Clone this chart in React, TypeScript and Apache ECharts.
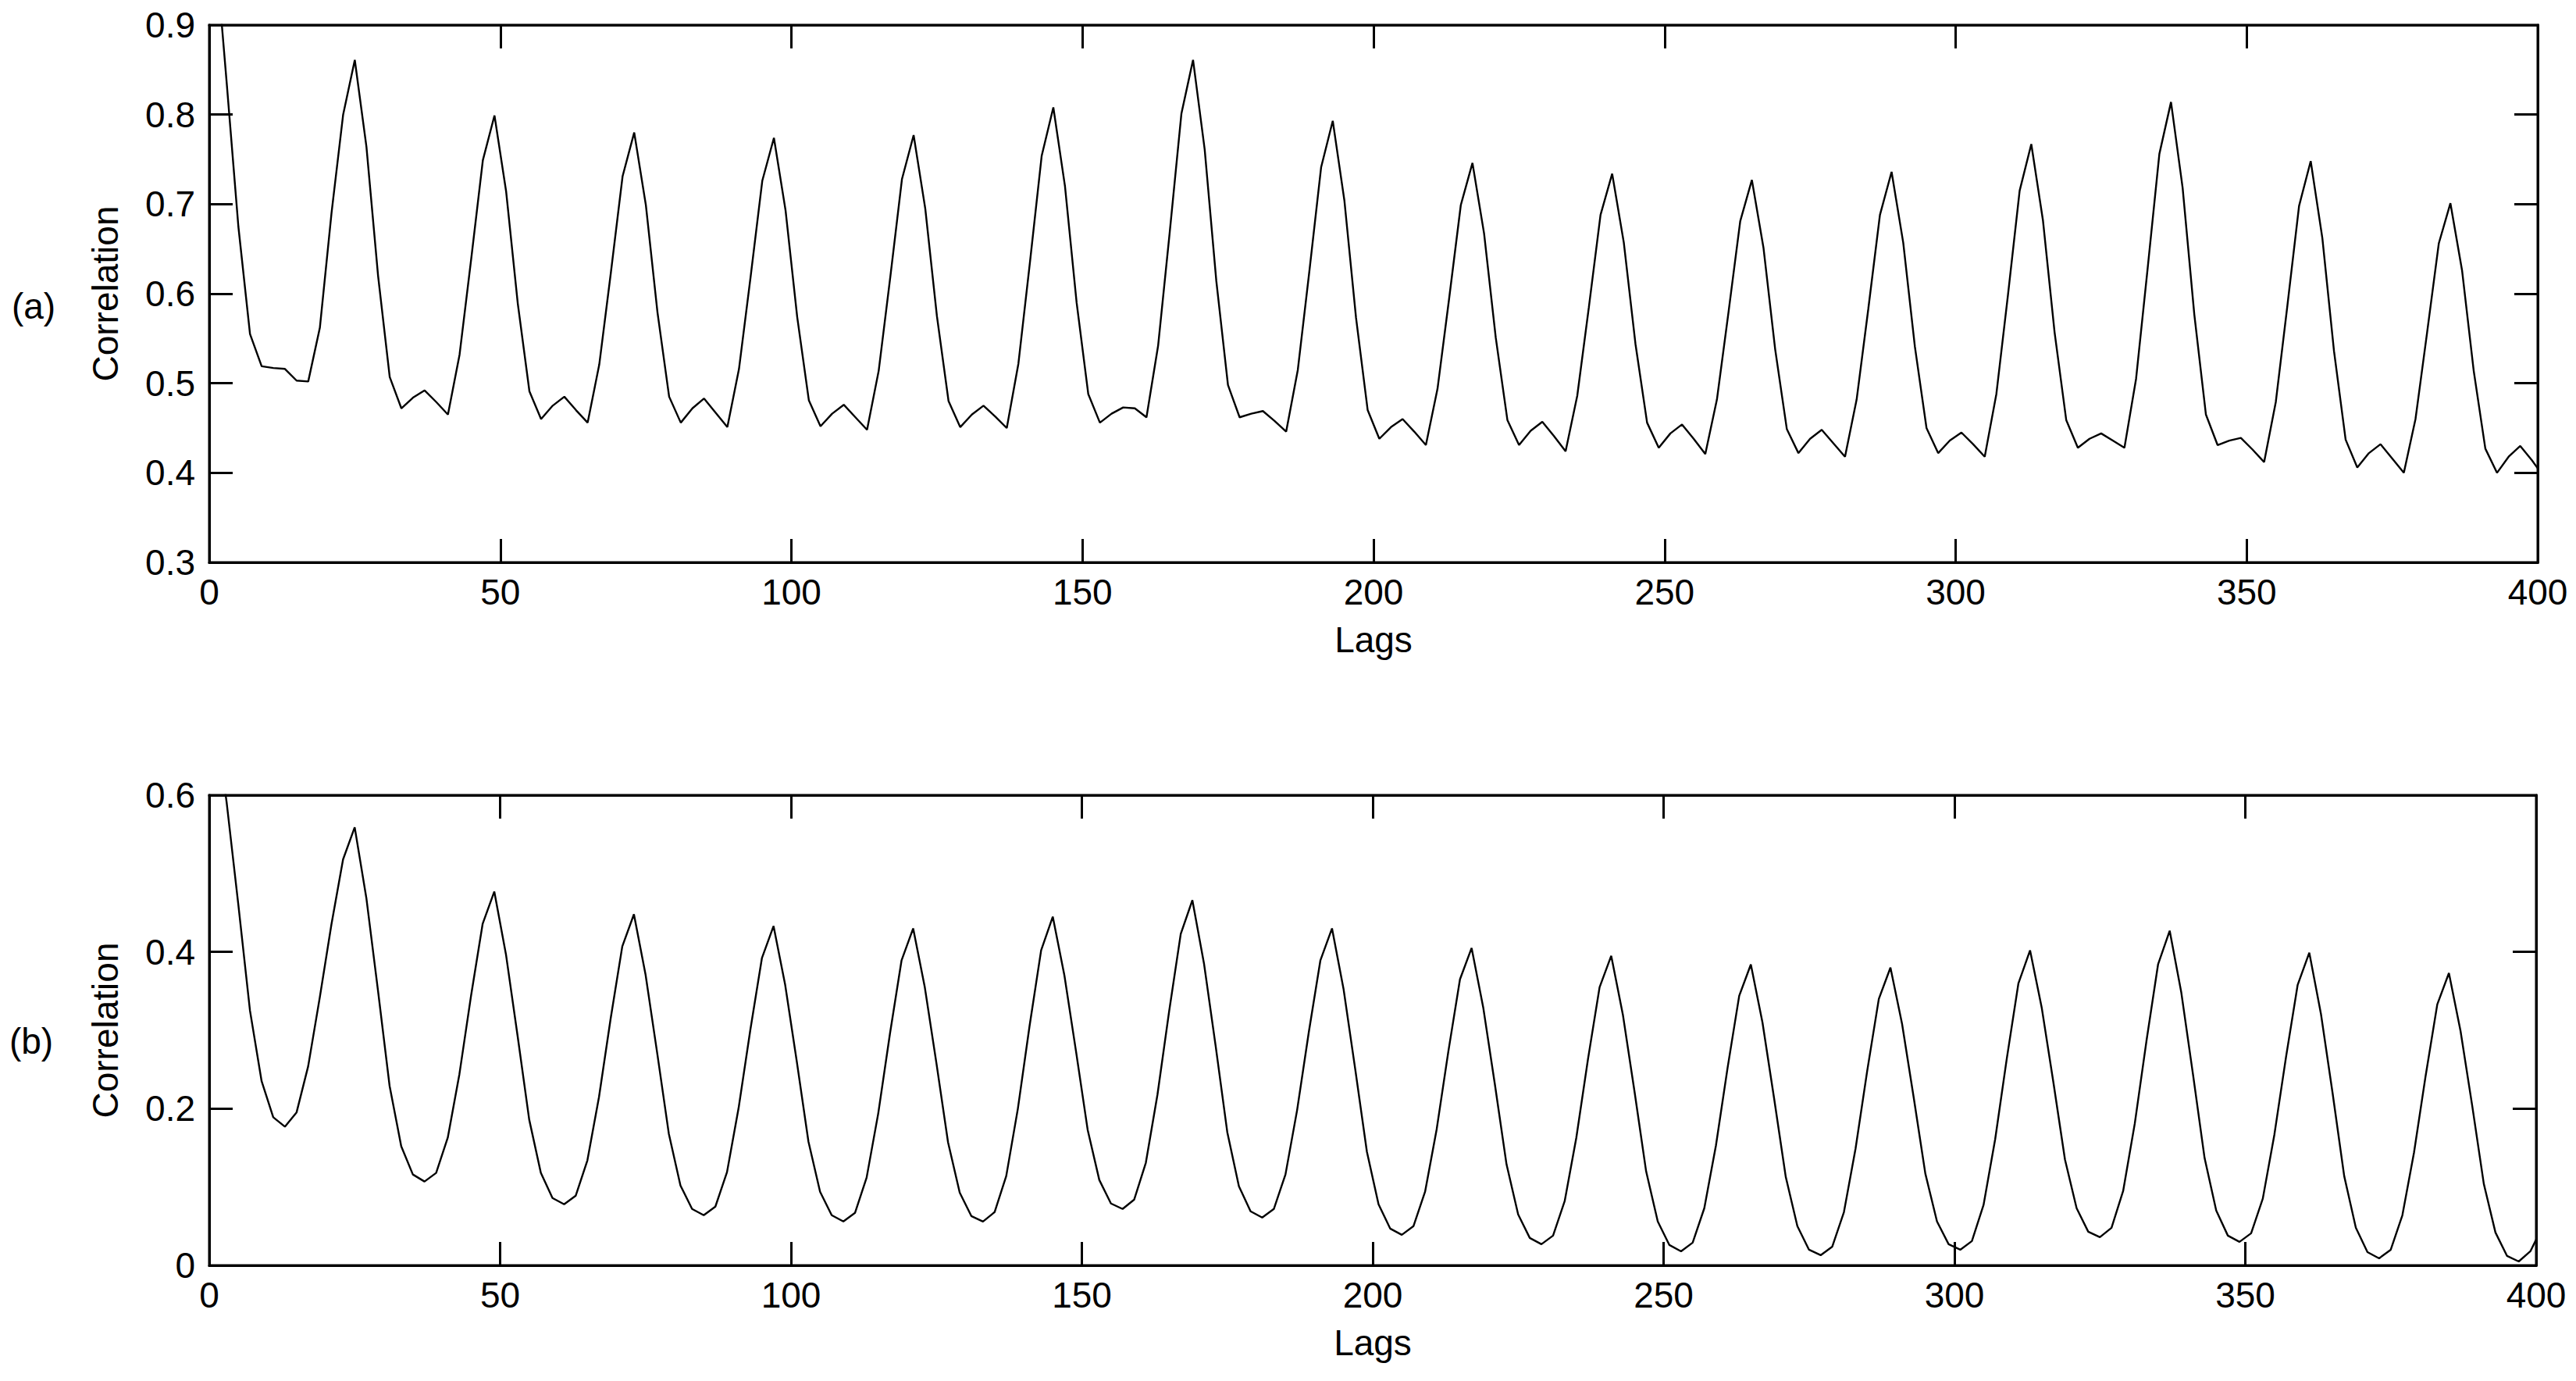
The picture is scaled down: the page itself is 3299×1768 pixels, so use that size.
import React, { useEffect, useRef } from 'react';
import * as echarts from 'echarts';

// Lags sampled (odd lags 1..399, plus the last lag 400)
const lags: number[] = [...Array.from({ length: 200 }, (_, i) => 2 * i + 1), 400];

// (a) correlation values, one per lag above
const acfA: number[] = [
  0.99, 0.835, 0.675, 0.555, 0.519, 0.517, 0.516, 0.503, 0.502, 0.562, 0.69, 0.8,
  0.861, 0.764, 0.62, 0.507, 0.472, 0.484, 0.492, 0.479, 0.465, 0.532, 0.639, 0.749,
  0.799, 0.714, 0.589, 0.491, 0.46, 0.475, 0.485, 0.47, 0.456, 0.521, 0.624, 0.731,
  0.78, 0.699, 0.579, 0.485, 0.456, 0.472, 0.483, 0.467, 0.451, 0.516, 0.619, 0.726,
  0.774, 0.693, 0.574, 0.481, 0.452, 0.466, 0.476, 0.462, 0.448, 0.514, 0.619, 0.728,
  0.777, 0.695, 0.575, 0.48, 0.451, 0.465, 0.475, 0.463, 0.45, 0.522, 0.636, 0.754,
  0.808, 0.72, 0.59, 0.488, 0.456, 0.466, 0.473, 0.472, 0.462, 0.542, 0.669, 0.801,
  0.861, 0.761, 0.614, 0.498, 0.462, 0.466, 0.469, 0.458, 0.446, 0.515, 0.626, 0.741,
  0.793, 0.704, 0.573, 0.47, 0.438, 0.451, 0.46, 0.446, 0.431, 0.494, 0.595, 0.699,
  0.746, 0.667, 0.551, 0.459, 0.431, 0.447, 0.457, 0.441, 0.424, 0.486, 0.585, 0.688,
  0.734, 0.657, 0.544, 0.456, 0.428, 0.444, 0.454, 0.438, 0.421, 0.482, 0.58, 0.681,
  0.727, 0.651, 0.538, 0.449, 0.422, 0.438, 0.448, 0.433, 0.418, 0.482, 0.583, 0.688,
  0.736, 0.657, 0.541, 0.45, 0.422, 0.436, 0.445, 0.432, 0.418, 0.488, 0.599, 0.715,
  0.767, 0.682, 0.557, 0.459, 0.428, 0.438, 0.444, 0.436, 0.428, 0.505, 0.629, 0.756,
  0.814, 0.718, 0.577, 0.465, 0.431, 0.436, 0.439, 0.426, 0.412, 0.479, 0.587, 0.698,
  0.748, 0.662, 0.536, 0.437, 0.406, 0.422, 0.432, 0.416, 0.4, 0.46, 0.557, 0.656,
  0.701, 0.626, 0.514, 0.427, 0.4, 0.418, 0.43, 0.414,
  0.405,
];

// (b) correlation values, one per lag above
const acfB: number[] = [
  0.7, 0.59, 0.46, 0.325, 0.235, 0.189, 0.177, 0.195, 0.254, 0.342, 0.435, 0.518,
  0.559, 0.469, 0.351, 0.229, 0.152, 0.116, 0.107, 0.118, 0.163, 0.244, 0.344, 0.436,
  0.477, 0.397, 0.293, 0.186, 0.118, 0.086, 0.078, 0.089, 0.134, 0.215, 0.315, 0.407,
  0.448, 0.371, 0.271, 0.168, 0.102, 0.072, 0.064, 0.075, 0.119, 0.201, 0.3, 0.392,
  0.433, 0.358, 0.26, 0.158, 0.094, 0.064, 0.056, 0.067, 0.112, 0.194, 0.295, 0.389,
  0.43, 0.355, 0.258, 0.157, 0.093, 0.063, 0.056, 0.068, 0.114, 0.2, 0.305, 0.402,
  0.445, 0.37, 0.273, 0.173, 0.109, 0.079, 0.072, 0.084, 0.131, 0.218, 0.324, 0.423,
  0.466, 0.385, 0.28, 0.17, 0.101, 0.069, 0.061, 0.072, 0.116, 0.198, 0.297, 0.389,
  0.43, 0.352, 0.25, 0.145, 0.078, 0.047, 0.039, 0.05, 0.094, 0.174, 0.273, 0.365,
  0.405, 0.329, 0.231, 0.129, 0.065, 0.035, 0.027, 0.038, 0.082, 0.163, 0.263, 0.355,
  0.395, 0.32, 0.222, 0.12, 0.056, 0.026, 0.018, 0.029, 0.073, 0.153, 0.252, 0.344,
  0.384, 0.31, 0.213, 0.113, 0.05, 0.02, 0.013, 0.024, 0.068, 0.149, 0.248, 0.34,
  0.38, 0.308, 0.214, 0.117, 0.056, 0.027, 0.02, 0.031, 0.077, 0.161, 0.264, 0.36,
  0.402, 0.329, 0.234, 0.135, 0.073, 0.043, 0.036, 0.048, 0.095, 0.181, 0.286, 0.384,
  0.427, 0.348, 0.244, 0.137, 0.07, 0.038, 0.03, 0.041, 0.085, 0.167, 0.266, 0.358,
  0.399, 0.321, 0.22, 0.114, 0.048, 0.017, 0.009, 0.02, 0.064, 0.144, 0.242, 0.333,
  0.373, 0.299, 0.204, 0.104, 0.042, 0.012, 0.005, 0.018,
  0.033,
];

const xTicks: number[] = [0, 50, 100, 150, 200, 250, 300, 350, 400];
const yTicksA: number[] = [0.3, 0.4, 0.5, 0.6, 0.7, 0.8, 0.9];
const yTicksB: number[] = [0, 0.2, 0.4, 0.6];
const panelLabels: string[] = ['(a)', '(b)'];
const xName = 'Lags';
const yName = 'Correlation';

const FONT = '"Liberation Sans", Arial, Helvetica, sans-serif';
const INK = '#000000';
const FS = 46;

const GRIDS = [
  { left: 268, top: 32, width: 2982, height: 688 },
  { left: 268, top: 1018, width: 2980, height: 602 },
];
const LABEL_POS = [
  { x: 43, y: 392 },
  { x: 40, y: 1333 },
];

const step = (t: number[]) => Math.round((t[1] - t[0]) * 1e6) / 1e6;

const makeTick = () => ({ show: true, inside: true, length: 30, lineStyle: { color: INK, width: 3 } });
const makeLine = () => ({ show: true, onZero: false, lineStyle: { color: INK, width: 3 } });
const textStyle = () => ({ color: INK, fontSize: FS, fontFamily: FONT });

function buildX(g: number) {
  const base = () => ({
    gridIndex: g,
    type: 'value',
    min: xTicks[0],
    max: xTicks[xTicks.length - 1],
    interval: step(xTicks),
    axisLine: makeLine(),
    axisTick: makeTick(),
    splitLine: { show: false },
  });
  return [
    {
      ...base(),
      position: 'bottom',
      axisLabel: { ...textStyle(), margin: 15, showMinLabel: true, showMaxLabel: true },
      name: xName,
      nameLocation: 'middle',
      nameGap: 76,
      nameTextStyle: textStyle(),
    },
    { ...base(), position: 'top', axisLabel: { show: false } },
  ];
}

function buildY(g: number, ticks: number[]) {
  const base = () => ({
    gridIndex: g,
    type: 'value',
    min: ticks[0],
    max: ticks[ticks.length - 1],
    interval: step(ticks),
    axisLine: makeLine(),
    axisTick: makeTick(),
    splitLine: { show: false },
  });
  return [
    {
      ...base(),
      position: 'left',
      axisLabel: { ...textStyle(), margin: 18, showMinLabel: true, showMaxLabel: true },
      name: yName,
      nameLocation: 'middle',
      nameRotate: 90,
      nameGap: 110,
      nameTextStyle: textStyle(),
    },
    { ...base(), position: 'right', axisLabel: { show: false } },
  ];
}

function buildOption() {
  return {
    animation: false,
    backgroundColor: '#ffffff',
    grid: GRIDS.map((g) => ({
      ...g,
      show: true,
      borderColor: INK,
      borderWidth: 3,
      backgroundColor: 'transparent',
      containLabel: false,
    })),
    xAxis: [...buildX(0), ...buildX(1)],
    yAxis: [...buildY(0, yTicksA), ...buildY(1, yTicksB)],
    series: [
      {
        type: 'line',
        xAxisIndex: 0,
        yAxisIndex: 0,
        data: lags.map((l, i) => [l, acfA[i]]),
        showSymbol: false,
        symbol: 'none',
        clip: true,
        silent: true,
        lineStyle: { color: INK, width: 2.4 },
      },
      {
        type: 'line',
        xAxisIndex: 2,
        yAxisIndex: 2,
        data: lags.map((l, i) => [l, acfB[i]]),
        showSymbol: false,
        symbol: 'none',
        clip: true,
        silent: true,
        lineStyle: { color: INK, width: 2.4 },
      },
    ],
    graphic: panelLabels.map((t, i) => ({
      type: 'text',
      x: LABEL_POS[i].x,
      y: LABEL_POS[i].y,
      silent: true,
      style: {
        text: t,
        fill: INK,
        fontSize: FS,
        fontFamily: FONT,
        align: 'center',
        verticalAlign: 'middle',
      },
    })),
  };
}

export default function App() {
  const ref = useRef<HTMLDivElement>(null);
  useEffect(() => {
    if (!ref.current) return;
    const chart = echarts.init(ref.current, undefined, { renderer: 'svg' });
    chart.setOption(buildOption() as any);
    return () => chart.dispose();
  }, []);
  return (
    <div
      ref={ref}
      style={{ position: 'fixed', left: 0, top: 0, width: 3299, height: 1768, background: '#fff' }}
    />
  );
}
